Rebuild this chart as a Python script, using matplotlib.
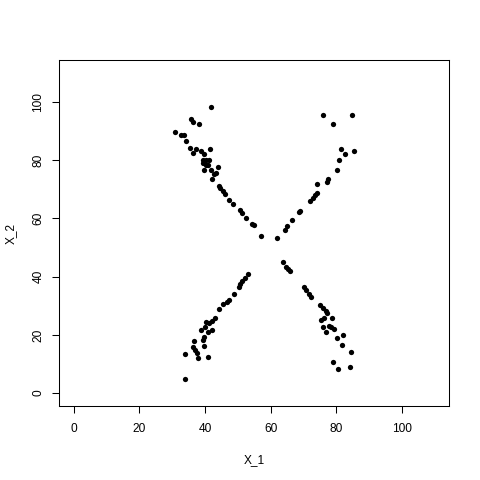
import matplotlib.pyplot as plt
import numpy as np

plt.rcParams['font.family'] = ['Liberation Sans', 'DejaVu Sans']

# upper-left arm
x_ul = [41.9, 35.8, 36.2, 38.3, 30.9, 32.7, 33.7, 34.3, 35.3, 37.1, 36.2, 38.9, 39.8, 41.6,
        39.5, 40.3, 41.3, 39.3, 40.3, 41.0, 39.8, 41.8, 42.8, 43.4, 43.8, 42.2, 44.1, 44.6,
        45.4, 46.2, 47.4, 48.6, 50.5, 51.2, 52.6, 54.2, 54.9, 57.1]
y_ul = [98.2, 94.2, 93.0, 92.5, 89.8, 88.7, 88.8, 86.6, 84.2, 83.9, 82.3, 83.2, 82.2, 83.9,
        79.9, 80.2, 80.1, 79.0, 78.5, 78.2, 76.5, 76.5, 75.3, 75.7, 77.7, 73.6, 71.3, 70.5,
        69.4, 68.3, 66.5, 65.1, 62.8, 61.9, 60.0, 58.2, 57.6, 53.9]

# upper-right arm
x_ur = [76.0, 84.8, 79.0, 81.4, 85.4, 82.7, 80.9, 80.2, 77.3, 77.0, 74.2, 74.2, 73.5, 72.8,
        71.9, 68.9, 68.6, 66.6, 65.0, 64.4, 62.0]
y_ur = [95.5, 95.5, 92.5, 83.9, 83.2, 82.0, 80.1, 76.7, 73.6, 72.4, 71.9, 68.7, 67.9, 67.1,
        66.0, 62.5, 62.1, 59.3, 57.3, 56.2, 53.2]

# lower-left arm
x_ll = [53.0, 52.2, 51.4, 50.7, 50.2, 48.8, 47.3, 46.6, 45.4, 44.1, 43.1, 42.1, 41.3, 40.3,
        40.0, 42.1, 41.0, 38.7, 39.8, 39.3, 36.5, 36.2, 36.8, 37.5, 34.0, 39.8, 37.8, 41.0, 34.0]
y_ll = [40.8, 39.7, 38.6, 37.4, 36.5, 34.2, 32.0, 31.4, 30.6, 28.8, 25.7, 24.8, 24.0, 24.5,
        22.8, 21.7, 21.1, 21.7, 19.4, 18.3, 17.9, 15.8, 14.8, 13.7, 13.5, 16.2, 12.0, 12.3, 4.9]

# lower-right arm
x_lr = [63.6, 64.7, 65.4, 65.9, 70.2, 70.9, 71.6, 72.3, 75.1, 76.0, 76.8, 77.0, 75.3, 76.3,
        78.7, 76.0, 77.8, 78.3, 79.3, 76.9, 80.2, 82.1, 81.7, 84.5, 79.0, 80.5, 84.1]
y_lr = [44.9, 43.4, 42.6, 42.0, 36.3, 35.4, 34.2, 32.9, 30.2, 29.1, 28.3, 27.6, 25.0, 25.7,
        25.7, 22.6, 23.2, 22.8, 21.9, 21.0, 19.0, 19.9, 16.4, 14.0, 10.6, 8.3, 8.9]

X_1 = np.array(x_ul + x_ur + x_ll + x_lr)
X_2 = np.array(y_ul + y_ur + y_ll + y_lr)

fig = plt.figure(figsize=(4.8, 4.8), dpi=100)
ax = fig.add_axes([59.3/480, 1-406/480, 390/480, 346/480])
ax.plot(X_1, X_2, 'o', color='black', ms=3.8, mew=0)

ax.set_xlim(-4.4, 114.4)
ax.set_ylim(-4.4, 114.4)
ticks = [0, 20, 40, 60, 80, 100]
ax.set_xticks(ticks)
ax.set_yticks(ticks)
ax.tick_params(direction='out', length=5.2, width=0.75, labelsize=8.6)
ax.tick_params(axis='x', pad=7)
ax.tick_params(axis='y', pad=5.5)
for lab in ax.get_yticklabels():
    lab.set_rotation(90)
    lab.set_va('center')
for s in ax.spines.values():
    s.set_linewidth(0.75)

ax.set_xlabel('X_1', fontsize=8.6, labelpad=14)
ax.set_ylabel('X_2', fontsize=8.6, labelpad=11)

fig.savefig('out.png', dpi=100)
